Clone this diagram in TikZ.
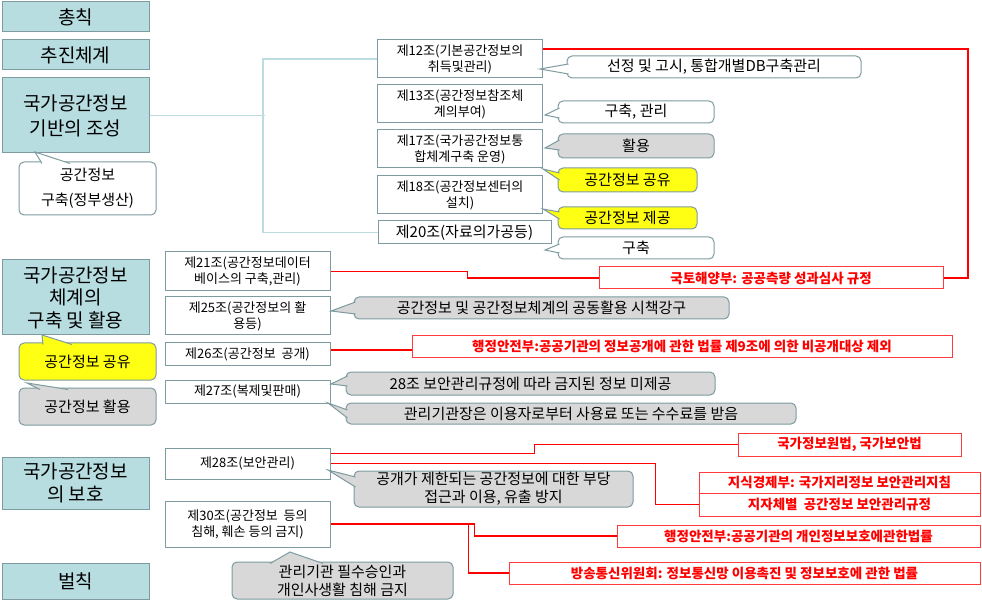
\documentclass[tikz,border=0pt]{standalone}
\usepackage{fontspec}
\usepackage{xcolor}
\usepackage{tikz}
\newfontfamily\kr{Noto Sans CJK KR}
\definecolor{secfill}{RGB}{183,221,225}
\definecolor{secline}{RGB}{125,155,160}
\definecolor{treeline}{RGB}{188,220,224}
\definecolor{notegray}{RGB}{216,216,216}
\definecolor{noteyellow}{RGB}{255,255,20}
\definecolor{lawred}{RGB}{255,60,60}
\definecolor{lawtext}{RGB}{255,0,0}
\newcommand\tail[4]{%
  \fill[#1] (#3) -- (#2) -- (#4) -- cycle;
  \draw[secline, line width=1pt] (#3) -- (#2) -- (#4);}

\tikzset{
  sect/.style={draw=secline, fill=secfill, line width=1pt, inner sep=0pt,
    minimum width=147pt, align=center, font=\kr\fontsize{19}{25}\selectfont},
  art/.style={draw=secline, fill=white, line width=1pt, inner sep=0pt,
    minimum width=165pt, align=center, font=\kr\fontsize{13}{16}\selectfont},
  note/.style={draw=secline, fill=white, line width=1pt, rounded corners=5pt,
    inner sep=0pt, align=center, font=\kr\fontsize{15}{18}\selectfont},
  law/.style={draw=lawred, fill=white, line width=1pt, inner sep=0pt,
    align=center, text=lawtext, font=\kr\bfseries\fontsize{13.5}{16}\selectfont},
  lawline/.style={draw=lawtext, line width=1.2pt},
  tree/.style={draw=treeline, line width=1.5pt},
  box/.style 2 args={minimum width=#1pt, minimum height=#2pt}
}

\begin{document}
\begin{tikzpicture}[x=1pt, y=-1pt]
        \useasboundingbox (0,0) rectangle (982,601);

        \node[sect, minimum height=30pt] (s1) at (75.5,17) {총칙};
        \node[sect, minimum height=30pt] (s2) at (75.5,55) {추진체계};
        \node[sect, minimum height=75pt] (s3) at (75.5,115.5) {국가공간정보\\기반의 조성};
        \node[sect, minimum height=75pt, font=\kr\fontsize{19}{22.5}\selectfont] (s4) at (75.5,297.5) {국가공간정보\\체계의\\구축 및 활용};
        \node[sect, minimum height=52pt, font=\kr\fontsize{19}{23}\selectfont] (s5) at (75.5,483) {국가공간정보\\의 보호};
        \node[sect, minimum height=36pt] (s6) at (75.5,581) {벌칙};

        \node[note, box={137}{53}, font=\kr\fontsize{15}{25}\selectfont] (c1) at (87.5,188.5) {공간정보\\구축(정부생산)};
        \node[note, box={137}{37}, fill=noteyellow] (c2) at (87.5,361.5) {공간정보 공유};
        \node[note, box={137}{37}, fill=notegray] (c3) at (87.5,406.5) {공간정보 활용};
        \tail{white}{35,152}{42,163.5}{70,163.5}
        \tail{noteyellow}{42,335}{43,344.5}{72,344.5}
        \tail{notegray}{27,383}{40,389.5}{68,389.5}

        \node[art, minimum height=38pt] (a12) at (460,59) {제12조(기본공간정보의\\취득및관리)};
        \node[art, minimum height=38pt] (a13) at (460,104) {제13조(공간정보참조체\\계의부여)};
        \node[art, minimum height=38pt] (a17) at (460,149) {제17조(국가공간정보통\\합체계구축 운영)};
        \node[art, minimum height=38pt] (a18) at (460,195) {제18조(공간정보센터의\\설치)};
        \node[art, box={173}{23}, font=\kr\fontsize{15}{18}\selectfont] (a20) at (464.5,232.5) {제20조(자료의가공등)};
        \draw[tree] (s3.east) -- ++(115,0);
        \draw[tree] (a12.west) -- ++(-114,0) |- (a20.west);

        \node[art, minimum height=39pt] (a21) at (247.5,271.5) {제21조(공간정보데이터\\베이스의 구축,관리)};
        \node[art, minimum height=38pt] (a25) at (247.5,316) {제25조(공간정보의 활\\용등)};
        \node[art, minimum height=22pt] (a26) at (247.5,354) {제26조(공간정보 \ 공개)};
        \node[art, minimum height=23pt] (a27) at (247.5,391.5) {제27조(복제및판매)};
        \node[art, minimum height=31pt] (a28) at (247.5,463.5) {제28조(보안관리)};
        \node[art, minimum height=46pt] (a30) at (247.5,524) {제30조(공간정보 \ 등의\\침해, 훼손 등의 금지)};

        \node[law, box={344}{22}] (r1) at (771,278) {국토해양부: 공공측량 성과심사 규정};
        \node[law, box={540}{21}] (r26) at (682,346.5) {행정안전부:공공기관의 정보공개에 관한 법률 제9조에 의한 비공개대상 제외};
        \node[law, box={223}{23}] (r28a) at (849.5,444.5) {국가정보원법, 국가보안법};
        \node[law, box={281}{21}] (r28b) at (839.5,482.5) {지식경제부: 국가지리정보 보안관리지침};
        \node[law, box={281}{23}] (r28c) at (839.5,504.5) {지자체별 \ 공간정보 보안관리규정};
        \node[law, box={363}{22}] (r30a) at (798.5,536) {행정안전부:공공기관의 개인정보보호에관한법률};
        \node[law, box={471}{22}] (r30b) at (744.5,573) {방송통신위원회: 정보통신망 이용촉진 및 정보보호에 관한 법률};

        \draw[lawline] ([yshift=10pt]a12.east) -- ++(425,0) |- (r1.east);
        \draw[lawline] (a21.east) -- ++(137,0) |- (r1.west);
        \draw[lawline] ([yshift=4pt]a26.east) -- ([yshift=4pt]a26.east -| r26.west);
        \draw[lawline] ([yshift=10pt]a28.east) -- ++(204,0) |- (r28a.west);
        \draw[lawline] (a28.east) -- ++(325,0) |- (r28c.west);
        \draw[lawline] (a30.east) -- ++(144,0) |- (r30a.west);
        \draw[lawline] (a30.east) -- ++(138,0) |- (r30b.west);

        \node[note, box={294}{22}] (n12) at (714,67) {선정 및 고시, 통합개별DB구축관리};
        \node[note, box={156}{22}] (n13) at (636,112) {구축, 관리};
        \node[note, box={156}{24}, fill=notegray] (n17) at (636,146) {활용};
        \node[note, box={139}{24}, fill=noteyellow] (n17b) at (627.5,180) {공간정보 공유};
        \node[note, box={139}{22}, fill=noteyellow] (n18) at (627.5,218) {공간정보 제공};
        \node[note, box={156}{22}] (n20) at (636,248) {구축};
        \tail{white}{540,69}{568.5,64}{568.5,74}
        \tail{white}{545,115}{559.5,108}{559.5,118}
        \tail{notegray}{545,148}{559.5,140}{559.5,150}
        \tail{noteyellow}{543,169}{559.5,173}{559.5,180}
        \tail{noteyellow}{543,209}{559.5,212}{559.5,219}
        \tail{white}{545,250}{559.5,244}{559.5,253}

        \node[note, box={375}{22}, fill=notegray] (g25) at (541.5,308) {공간정보 및 공간정보체계의 공동활용 시책강구};
        \node[note, box={369}{23}, fill=notegray] (g27a) at (530.5,383.5) {28조 보안관리규정에 따라 금지된 정보 미제공};
        \node[note, box={450}{21}, fill=notegray] (g27b) at (571,413.5) {관리기관장은 이용자로부터 사용료 또는 수수료를 받음};
        \node[note, box={279}{36}, fill=notegray] (g28) at (493.5,489) {공개가 제한되는 공간정보에 대한 부당\\접근과 이용, 유출 방지};
        \node[note, box={221}{37}, fill=notegray] (g30) at (342.5,580.5) {관리기관 필수승인과\\개인사생활 침해 금지};
        \tail{notegray}{331,311}{355.5,302}{355.5,314}
        \tail{notegray}{331,384}{347.5,376}{347.5,386}
        \tail{notegray}{328,403}{347.5,410}{347.5,418}
        \tail{notegray}{328,470}{355.5,477}{355.5,487}
        \tail{notegray}{290,552}{270,563.5}{323,563.5}
\end{tikzpicture}
\end{document}
